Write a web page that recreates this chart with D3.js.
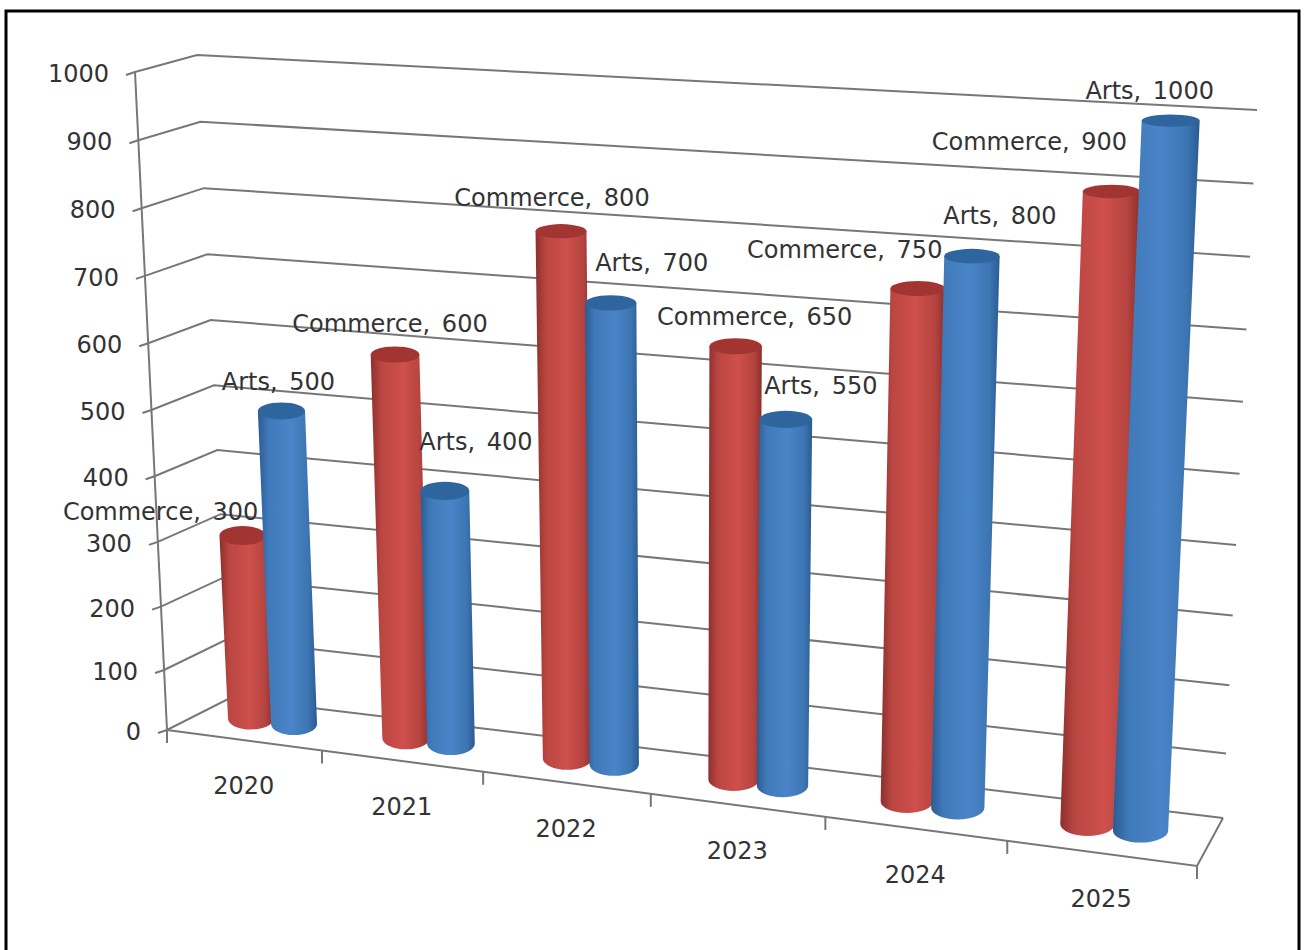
<!DOCTYPE html>
<html>
<head>
<meta charset="utf-8">
<title>Commerce and Arts</title>
<script src="https://cdn.jsdelivr.net/npm/d3@7"></script>
<style>
  html, body { margin: 0; padding: 0; background: #fff; overflow: hidden; }
  text { font-family: "DejaVu Sans", sans-serif; fill: #333; }
</style>
</head>
<body>
<div id="chart"></div>
<script>
const years = ['2020', '2021', '2022', '2023', '2024', '2025'];
const seriesNames = ['Commerce', 'Arts'];
const commerce = [300, 600, 800, 650, 750, 900];
const arts = [500, 400, 700, 550, 800, 1000];
const valueTicks = [0, 100, 200, 300, 400, 500, 600, 700, 800, 900, 1000];

// data labels were hand placed in the original, so they sit at odd offsets from the bar tops
const commerceLabelShift = [[-82, -23], [-5, -31], [-9, -33], [19, -29], [-73, -39], [-82, -49]];
const artsLabelShift = [[-3, -29], [31, -49], [41, -40], [35, -33], [28, -40], [-21, -30]];

const width = 1304, height = 950;
const svg = d3.select('#chart').append('svg')
  .attr('width', width)
  .attr('height', height);

svg.append('rect')
  .attr('x', 6).attr('y', 11)
  .attr('width', 1293).attr('height', 1000)
  .attr('fill', '#fff').attr('stroke', '#000').attr('stroke-width', 3);

const defs = svg.append('defs');

// the box of the 3d chart, one y and x scale per vertical edge
// the pow scale is the foreshortening of the camera looking down
const edge = (x0, y0, x1, y1) => ({
  x: d3.scalePow().exponent(1.04).domain([0, 1000]).range([x0, x1]),
  y: d3.scalePow().exponent(1.04).domain([0, 1000]).range([y0, y1])
});
const frontLeft = edge(167, 730, 135, 72);
const backLeft = edge(230, 698, 197, 55);
const backRight = edge(1223, 818, 1257, 110);
const frontRight = edge(1197, 866, 1233, 141);

// categories get wider to the right
const warp = t => t / (1 + 0.129 * (1 - t));

function project(t, depth, value) {
  const u = warp(t);
  const fx = d3.interpolateNumber(frontLeft.x(value), frontRight.x(value))(u);
  const fy = d3.interpolateNumber(frontLeft.y(value), frontRight.y(value))(u);
  const bx = d3.interpolateNumber(backLeft.x(value), backRight.x(value))(u);
  const by = d3.interpolateNumber(backLeft.y(value), backRight.y(value))(u);
  return [fx + (bx - fx) * depth, fy + (by - fy) * depth];
}

const xBand = d3.scaleBand().domain(years).range([0, 1]);
const seriesOffset = d3.scaleBand().domain(seriesNames).range([-0.0475, 0.0475]);
const pairShift = d3.scaleLinear().domain([0.08, 0.42, 0.92]).range([-0.005, -0.0022, -0.003]);
const barDepth = 0.55;
const radius = d3.scaleLinear().domain([0, 1]).range([22.5, 28]);
const shrink = d3.scaleLinear().domain([0, 1]).range([0.98, 1]);
const ellipseHeight = d3.scaleLinear().domain([100, 840]).range([6, 12]);

const lineColor = '#777';
const lines = svg.append('g')
  .attr('fill', 'none')
  .attr('stroke', lineColor)
  .attr('stroke-width', 2);

const segment = (a, b) => d3.line()([a, b]);

// walls
lines.selectAll('.side').data(valueTicks).enter().append('path')
  .attr('class', 'side')
  .attr('d', v => d3.line()([
    [frontLeft.x(v) - 9, frontLeft.y(v) + 3],
    [frontLeft.x(v), frontLeft.y(v)],
    [backLeft.x(v), backLeft.y(v)],
    [backRight.x(v), backRight.y(v)]
  ]));

// axis lines and floor
lines.append('path').attr('d', segment([frontLeft.x(0), frontLeft.y(0)], [frontLeft.x(1000), frontLeft.y(1000)]));
lines.append('path').attr('d', d3.line()([
  [frontLeft.x(0), frontLeft.y(0)],
  [frontRight.x(0), frontRight.y(0)],
  [backRight.x(0), backRight.y(0)]
]));

// x ticks on the band edges
const tickPositions = years.map(y => xBand(y)).concat([1]);
lines.selectAll('.xtick').data(tickPositions).enter().append('path')
  .attr('class', 'xtick')
  .attr('d', t => {
    const p = project(t, 0, 0);
    return segment(p, [p[0], p[1] + 13]);
  });

// cylinder gradients
const palette = {
  Commerce: { edge: '#8c2f2c', mid: '#cf504c', top: '#a23633' },
  Arts: { edge: '#2a5c92', mid: '#4a85c9', top: '#2e659f' }
};
seriesNames.forEach(name => {
  const g = defs.append('linearGradient').attr('id', 'grad' + name);
  g.append('stop').attr('offset', '0%').attr('stop-color', palette[name].edge);
  g.append('stop').attr('offset', '18%').attr('stop-color', d3.interpolateRgb(palette[name].edge, palette[name].mid)(0.7));
  g.append('stop').attr('offset', '55%').attr('stop-color', palette[name].mid);
  g.append('stop').attr('offset', '85%').attr('stop-color', d3.interpolateRgb(palette[name].edge, palette[name].mid)(0.6));
  g.append('stop').attr('offset', '100%').attr('stop-color', palette[name].edge);
});
const soft = defs.append('filter').attr('id', 'soft');
soft.append('feGaussianBlur').attr('stdDeviation', 0.7);

const rows = years.flatMap((year, i) => [
  { year, i, name: 'Commerce', value: commerce[i], shift: commerceLabelShift[i] },
  { year, i, name: 'Arts', value: arts[i], shift: artsLabelShift[i] }
]);
rows.forEach(d => {
  const center = xBand(d.year) + xBand.bandwidth() / 2;
  const t = center + pairShift(center) + seriesOffset(d.name) + seriesOffset.bandwidth() / 2;
  const base = project(t, barDepth, 0);
  const full = project(t, barDepth, d.value);
  const k = shrink(warp(t));
  d.base = base;
  d.top = [base[0] + (full[0] - base[0]) * k, base[1] + (full[1] - base[1]) * k];
  d.rx = radius(warp(t));
  d.rxTop = d.rx * (1 + 0.05 * d.value / 1000);
});

const bars = svg.append('g').attr('filter', 'url(#soft)')
  .selectAll('g').data(rows).enter().append('g');

bars.append('path')
  .attr('fill', d => `url(#grad${d.name})`)
  .attr('d', d => {
    const ryBase = ellipseHeight(d.base[1]);
    return `M${d.top[0] - d.rxTop},${d.top[1]}` +
      `L${d.base[0] - d.rx},${d.base[1]}` +
      `A${d.rx},${ryBase} 0 0 0 ${d.base[0] + d.rx},${d.base[1]}` +
      `L${d.top[0] + d.rxTop},${d.top[1]}Z`;
  });
bars.append('ellipse')
  .attr('cx', d => d.top[0])
  .attr('cy', d => d.top[1])
  .attr('rx', d => d.rxTop)
  .attr('ry', d => ellipseHeight(d.top[1]))
  .attr('fill', d => palette[d.name].top);

// value axis labels
svg.append('g').selectAll('text').data(valueTicks).enter().append('text')
  .attr('x', v => frontLeft.x(v) - 26)
  .attr('y', v => frontLeft.y(v) + 10)
  .attr('text-anchor', 'end')
  .attr('font-size', 24)
  .text(v => v);

// year labels
svg.append('g').selectAll('text').data(years).enter().append('text')
  .attr('x', y => project(xBand(y) + xBand.bandwidth() / 2, 0, 0)[0])
  .attr('y', y => project(xBand(y) + xBand.bandwidth() / 2, 0, 0)[1] + 54)
  .attr('text-anchor', 'middle')
  .attr('font-size', 24)
  .text(y => y);

// data labels
svg.append('g').selectAll('text').data(rows).enter().append('text')
  .attr('x', d => d.top[0] + d.shift[0])
  .attr('y', d => d.top[1] + d.shift[1] + 8)
  .attr('text-anchor', 'middle')
  .attr('font-size', 24)
  .attr('word-spacing', 4)
  .text(d => `${d.name}, ${d.value}`);
</script>
</body>
</html>
